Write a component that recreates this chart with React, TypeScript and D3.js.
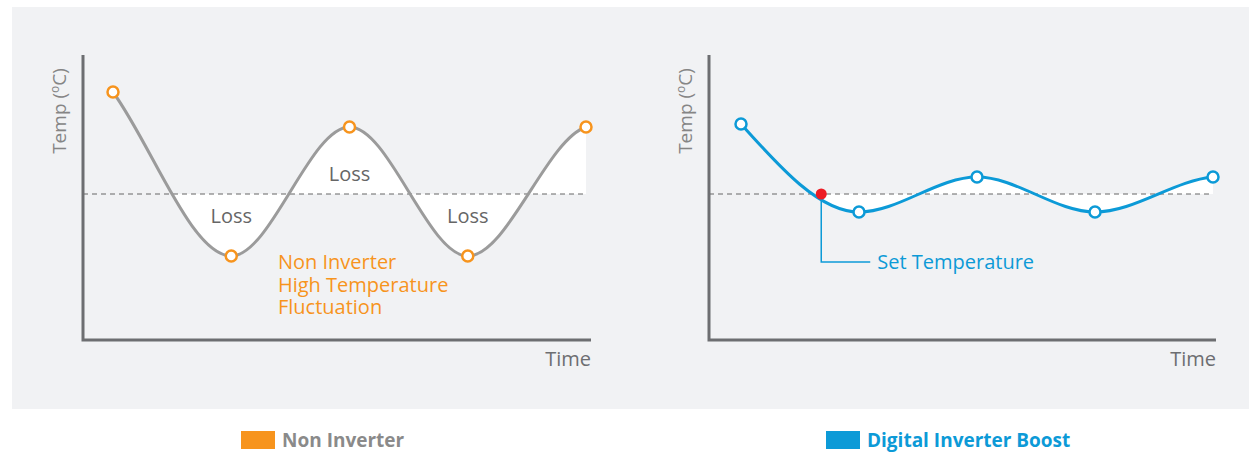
import React, { useEffect, useRef } from "react";
import * as d3 from "d3";

// time steps and temperatures (°C)
const times = [0, 1, 2, 3, 4];
const nonInverterTemps = [34.2, 17.8, 30.7, 17.8, 30.7];
const boostTemps = [31.0, 22.2, 25.7, 22.2, 25.7];
const setTemp = 24;
const setPointTime = 0.68;

const lossTimes = [1, 2, 3];
const lossTemps = [21.8, 26.0, 21.8];
const nonInverterNote = ["Non Inverter", "High Temperature", "Fluctuation"];
const setTempLabel = "Set Temperature";
const legendLabels = ["Non Inverter", "Digital Inverter Boost"];

const ORANGE = "#f7941d";
const BLUE = "#0c9ad7";
const AXIS = "#6d6e71";
const FONT = "'Open Sans', sans-serif";

// smooth curve through the points, flat at the turning points;
// kStart / kEnd scale the end tangents against the end segments' slopes
function smoothPath(pts: [number, number][], kStart: number, kEnd: number) {
  const p = d3.path();
  const n = pts.length;
  const slope = (a: number, b: number) =>
    (pts[b][1] - pts[a][1]) / (pts[b][0] - pts[a][0]);
  const m = pts.map((_, i) => {
    if (i === 0) return kStart * slope(0, 1);
    if (i === n - 1) return kEnd * slope(n - 2, n - 1);
    const s0 = slope(i - 1, i);
    const s1 = slope(i, i + 1);
    return s0 * s1 <= 0 ? 0 : (s0 + s1) / 2;
  });
  p.moveTo(pts[0][0], pts[0][1]);
  for (let i = 1; i < n; i++) {
    const [x0, y0] = pts[i - 1];
    const [x1, y1] = pts[i];
    const h = (x1 - x0) / 3;
    p.bezierCurveTo(x0 + h, y0 + m[i - 1] * h, x1 - h, y1 - m[i] * h, x1, y1);
  }
  return p.toString();
}

function drawChart(
  g: d3.Selection<SVGGElement, unknown, null, undefined>,
  opts: {
    left: number;
    right: number;
    x0: number;
    x1: number;
    temps: number[];
    kStart: number;
    kEnd: number;
    lineColor: string;
    markerColor: string;
    id: string;
  }
) {
  const top = 55;
  const bottom = 340;
  const x = d3.scaleLinear().domain([0, 4]).range([opts.x0, opts.x1]);
  const y = d3.scaleLinear().domain([9.4, 38]).range([bottom, 54]);
  const pts: [number, number][] = times.map((t, i) => [x(t), y(opts.temps[i])]);
  const ySet = y(setTemp);
  const d = smoothPath(pts, opts.kStart, opts.kEnd);

  const fillLayer = g.append("g");

  // dashed set temperature line
  g.append("line")
    .attr("x1", opts.left)
    .attr("x2", x(4))
    .attr("y1", ySet)
    .attr("y2", ySet)
    .attr("stroke", "#666")
    .attr("stroke-width", 1)
    .attr("stroke-dasharray", "5,4");

  const path = g
    .append("path")
    .attr("d", d)
    .attr("fill", "none")
    .attr("stroke", opts.lineColor)
    .attr("stroke-width", 3);

  // first crossing of the curve with the set temperature
  const node = path.node() as SVGPathElement;
  let lo = 0;
  let hi = node.getTotalLength() / 4;
  for (let i = 0; i < 40; i++) {
    const mid = (lo + hi) / 2;
    if (node.getPointAtLength(mid).y < ySet) lo = mid;
    else hi = mid;
  }
  const cross = node.getPointAtLength(lo);

  fillLayer
    .append("clipPath")
    .attr("id", opts.id)
    .append("rect")
    .attr("x", cross.x)
    .attr("y", 0)
    .attr("width", x(4) - cross.x)
    .attr("height", 400);

  fillLayer
    .append("path")
    .attr("d", d + `L${x(4)},${ySet}L${x(0)},${ySet}Z`)
    .attr("fill", "#fff")
    .attr("clip-path", `url(#${opts.id})`);

  // axes
  g.append("path")
    .attr("d", `M${opts.left},${top}V${bottom}H${opts.right}`)
    .attr("fill", "none")
    .attr("stroke", AXIS)
    .attr("stroke-width", 3);

  g.append("text")
    .attr("x", opts.right)
    .attr("y", bottom + 26)
    .attr("text-anchor", "end")
    .attr("fill", AXIS)
    .attr("font-size", 20)
    .attr("font-family", FONT)
    .text("Time");

  const yl = g
    .append("text")
    .attr("transform", `translate(${opts.left - 17},111) rotate(-90)`)
    .attr("text-anchor", "middle")
    .attr("fill", "#858585")
    .attr("font-size", 19)
    .attr("font-family", FONT);
  yl.append("tspan").text("Temp (");
  yl.append("tspan").attr("font-size", 12).attr("dy", -7).text("o");
  yl.append("tspan").attr("dy", 7).text("C)");

  // markers
  g.selectAll("circle.pt")
    .data(pts)
    .join("circle")
    .attr("class", "pt")
    .attr("cx", (p) => p[0])
    .attr("cy", (p) => p[1])
    .attr("r", 5.5)
    .attr("fill", "#fff")
    .attr("stroke", opts.markerColor)
    .attr("stroke-width", 2.5);

  return { x, y };
}

export default function App() {
  const svgRef = useRef<SVGSVGElement>(null);

  useEffect(() => {
    document.body.style.margin = "0";
    const svg = d3.select(svgRef.current);
    svg.selectAll("*").remove();

    svg
      .append("rect")
      .attr("x", 12)
      .attr("y", 7)
      .attr("width", 1237)
      .attr("height", 402)
      .attr("fill", "#f1f2f4");

    const left = drawChart(svg.append("g"), {
      left: 83,
      right: 591,
      x0: 113,
      x1: 586,
      temps: nonInverterTemps,
      kStart: 1,
      kEnd: 0.3,
      lineColor: "#9b9b9b",
      markerColor: ORANGE,
      id: "clipA",
    });

    svg
      .append("g")
      .selectAll("text")
      .data(lossTimes)
      .join("text")
      .attr("x", (t) => left.x(t))
      .attr("y", (t, i) => left.y(lossTemps[i]))
      .attr("dy", "0.35em")
      .attr("text-anchor", "middle")
      .attr("fill", "#666")
      .attr("font-size", 20)
      .attr("font-family", FONT)
      .text("Loss");

    svg
      .append("g")
      .selectAll("text")
      .data(nonInverterNote)
      .join("text")
      .attr("x", left.x(1.395))
      .attr("y", (s, i) => left.y(17.2) + i * 22.5)
      .attr("dy", "0.35em")
      .attr("fill", ORANGE)
      .attr("font-size", 20)
      .attr("font-family", FONT)
      .text((s) => s);

    const right = drawChart(svg.append("g"), {
      left: 709,
      right: 1216,
      x0: 741,
      x1: 1213,
      temps: boostTemps,
      kStart: 1.5,
      kEnd: 0.3,
      lineColor: BLUE,
      markerColor: BLUE,
      id: "clipB",
    });

    const dx = right.x(setPointTime);
    const dy = right.y(setTemp);
    const cy = left.y(17.2);
    svg
      .append("path")
      .attr("d", `M${dx},${dy}V${cy}H${dx + 49}`)
      .attr("fill", "none")
      .attr("stroke", BLUE)
      .attr("stroke-width", 1.5);
    svg
      .append("circle")
      .attr("cx", dx)
      .attr("cy", dy)
      .attr("r", 5.5)
      .attr("fill", "#ed1c24");
    svg
      .append("text")
      .attr("x", dx + 56)
      .attr("y", cy)
      .attr("dy", "0.35em")
      .attr("fill", BLUE)
      .attr("font-size", 20)
      .attr("font-family", FONT)
      .text(setTempLabel);

    // legend
    const legend = [
      { x: 241, color: ORANGE, text: "#8a8a8a" },
      { x: 826, color: BLUE, text: BLUE },
    ];
    legend.forEach((l, i) => {
      svg
        .append("rect")
        .attr("x", l.x)
        .attr("y", 431)
        .attr("width", 34)
        .attr("height", 18)
        .attr("fill", l.color);
      svg
        .append("text")
        .attr("x", l.x + 41)
        .attr("y", 440)
        .attr("dy", "0.35em")
        .attr("fill", l.text)
        .attr("font-size", 19)
        .attr("font-weight", "bold")
        .attr("font-family", FONT)
        .text(legendLabels[i]);
    });
  }, []);

  return <svg ref={svgRef} width={1249} height={452} style={{ display: "block" }} />;
}
